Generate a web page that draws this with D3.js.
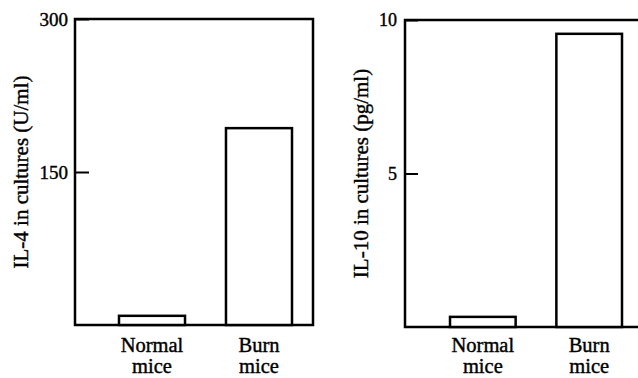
<!DOCTYPE html>
<html><head><meta charset="utf-8">
<script src="https://cdn.jsdelivr.net/npm/d3@7"></script>
<style>
html,body{margin:0;padding:0;background:#fff;}
svg{display:block;}
</style></head>
<body>
<svg id="chart" width="638" height="378"></svg>
<script>
const categories = ["Normal|mice", "Burn|mice"];
const il4Values = [9, 193];
const il10Values = [0.33, 9.55];
const il4Ticks = [150, 300];
const il10Ticks = [5, 10];
const il4Title = "IL-4 in cultures (U/ml)";
const il10Title = "IL-10 in cultures (pg/ml)";

const FONT = "'Liberation Serif', 'DejaVu Serif', serif";
const svg = d3.select("#chart");

function panel(cfg) {
  const g = svg.append("g");
  const y = d3.scaleLinear().domain([0, cfg.max]).range([cfg.bottom, cfg.top]);
  const x = d3.scaleBand().domain(categories).range(cfg.barRange).paddingInner(0.383).paddingOuter(0);

  g.append("rect")
    .attr("x", cfg.left).attr("y", cfg.top)
    .attr("width", cfg.right - cfg.left).attr("height", cfg.bottom - cfg.top)
    .attr("fill", "none").attr("stroke", "#000").attr("stroke-width", 2.5);

  g.selectAll("rect.bar").data(cfg.values).enter().append("rect")
    .attr("class", "bar")
    .attr("x", (d, i) => x(categories[i]))
    .attr("width", x.bandwidth())
    .attr("y", d => y(d))
    .attr("height", d => cfg.bottom - y(d))
    .attr("fill", "#fff").attr("stroke", "#000").attr("stroke-width", 2.5);

  const axis = d3.axisRight(y).tickValues(cfg.ticks).tickSize(cfg.tickLen).tickFormat("");
  const ag = g.append("g").attr("transform", `translate(${cfg.left},0)`).call(axis);
  ag.select(".domain").remove();
  ag.selectAll(".tick line").attr("stroke", "#000").attr("stroke-width", 2);

  g.selectAll("text.tl").data(cfg.ticks).enter().append("text")
    .attr("class", "tl")
    .attr("x", cfg.left - cfg.labelGap)
    .attr("y", d => y(d))
    .attr("dy", "0.35em")
    .attr("text-anchor", "end")
    .attr("font-family", FONT)
    .attr("font-size", cfg.tickFont)
    .attr("stroke", "#000").attr("stroke-width", 0.4)
    .text(d => d);

  categories.forEach((c, i) => {
    const parts = c.split("|");
    const cx = x(c) + x.bandwidth() / 2;
    parts.forEach((p, j) => {
      g.append("text").attr("x", cx).attr("y", 352 + j * 21)
        .attr("text-anchor", "middle")
        .attr("font-family", FONT).attr("font-size", 20.5)
        .attr("stroke", "#000").attr("stroke-width", 0.4)
        .text(p);
    });
  });

  g.append("text")
    .attr("transform", `translate(${cfg.titleX},${(cfg.top + cfg.bottom) / 2}) rotate(-90)`)
    .attr("text-anchor", "middle")
    .attr("font-family", FONT)
    .attr("font-size", cfg.titleFont)
    .attr("stroke", "#000").attr("stroke-width", 0.4)
    .text(cfg.title);
}

panel({left: 75, right: 313, top: 19, bottom: 325, barRange: [119, 292],
  max: 300, values: il4Values, ticks: il4Ticks, tickLen: 14, labelGap: 7, tickFont: 19,
  titleX: 28, titleFont: 21, title: il4Title});
panel({left: 405, right: 660, top: 20, bottom: 327, barRange: [450, 622],
  max: 10, values: il10Values, ticks: il10Ticks, tickLen: 13, labelGap: 8, tickFont: 18,
  titleX: 368, titleFont: 21, title: il10Title});
</script>
</body></html>
